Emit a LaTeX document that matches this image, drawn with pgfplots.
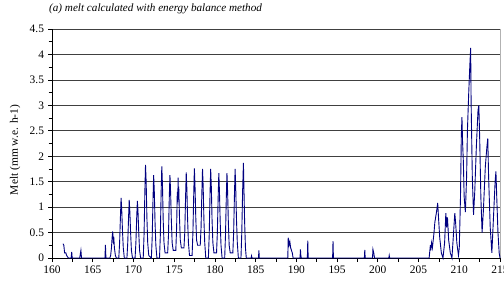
\documentclass[border=0pt]{standalone}
\usepackage{fontspec}
\setmainfont{Liberation Serif}
\usepackage{pgfplots}
\pgfplotsset{compat=1.18}
\definecolor{navyline}{RGB}{0,0,128}
\begin{document}
\begin{tikzpicture}
\path[use as bounding box] (-52bp,-26bp) rectangle (452bp,258bp);
\begin{axis}[
  at={(0,0)}, anchor=south west,
  scale only axis, width=448bp, height=229bp,
  xmin=160, xmax=215, ymin=0, ymax=4.5,
  xtick={160,165,...,215}, ytick={0,0.5,...,4.5},
  minor x tick num=1, minor y tick num=1,
  tick align=outside,
  major tick length=4bp, minor tick length=3.5bp,
  axis x line*=bottom, axis y line*=left,
  axis line style={black, line width=0.7bp, -},
  tick style={black, line width=0.7bp},
  ymajorgrids, major grid style={black!75, line width=0.7bp},
  /pgf/number format/assume math mode=true,
  ticklabel style={font=\fontsize{11.5}{13}\selectfont},
  yticklabel style={xshift=-0.5bp},
  xticklabel style={yshift=0bp},
  title={\fontsize{11.2}{13}\selectfont\itshape (a) melt calculated with energy balance method},
  title style={at={(0,1)}, anchor=base west, xshift=-3bp, yshift=12bp, inner sep=0pt},
  ylabel={Melt (mm w.e. h-1)},
  ylabel style={font=\fontsize{11.5}{13}\selectfont, at={(axis description cs:-0.0826,0.472)}, anchor=center},
  clip=false,
]
\draw[black!30, line width=1bp] (rel axis cs:1,0) -- (rel axis cs:1,1);
\addplot[navyline, line width=0.9bp] coordinates {
(161.35,0.28) (161.45,0.25) (161.55,0.1) (161.7,0.1) (161.8,0.05) (162.0,0)
(162.35,0) (162.42,0.12) (162.48,0) (163.4,0) (163.48,0.08) (163.55,0.15) (163.62,0)
(166.5,0) (166.56,0.26) (166.62,0) (167.1,0)
(167.2,0.05) (167.3,0.2) (167.38,0.4) (167.45,0.52) (167.52,0.35) (167.58,0.42) (167.66,0.2) (167.78,0.05) (167.9,0)
(168.2,0) (168.3,0.3) (168.4,0.8) (168.48,1.18) (168.56,0.95) (168.65,0.55) (168.75,0.2) (168.88,0)
(169.2,0) (169.3,0.3) (169.4,0.8) (169.48,1.14) (169.56,0.9) (169.65,0.5) (169.75,0.15) (169.88,0)
(170.2,0) (170.3,0.3) (170.4,0.8) (170.48,1.12) (170.56,0.9) (170.65,0.5) (170.75,0.15) (170.88,0)
(171.2,0) (171.3,0.45) (171.4,1.3) (171.48,1.83) (171.56,1.5) (171.65,0.8) (171.75,0.3) (171.88,0.05)
(172.2,0) (172.3,0.4) (172.4,1.15) (172.48,1.63) (172.56,1.3) (172.65,0.7) (172.75,0.25) (172.88,0)
(173.2,0) (173.3,0.45) (173.4,1.3) (173.48,1.80) (173.56,1.45) (173.65,0.75) (173.75,0.3) (173.88,0.1)
(174.2,0.1) (174.3,0.45) (174.4,1.2) (174.48,1.63) (174.56,1.3) (174.65,0.75) (174.75,0.3) (174.88,0.15)
(175.2,0.15) (175.3,0.6) (175.38,1.3) (175.44,1.1) (175.48,1.58) (175.52,1.2) (175.56,1.4) (175.65,0.8) (175.75,0.35) (175.88,0.2)
(176.2,0.2) (176.3,0.5) (176.4,1.2) (176.48,1.68) (176.56,1.35) (176.65,0.75) (176.75,0.3) (176.88,0.05)
(177.2,0.05) (177.3,0.5) (177.4,1.25) (177.48,1.76) (177.56,1.4) (177.65,0.8) (177.75,0.35) (177.88,0.25)
(178.2,0.25) (178.3,0.6) (178.4,1.3) (178.48,1.75) (178.56,1.4) (178.65,0.75) (178.75,0.3) (178.88,0)
(179.2,0) (179.3,0.45) (179.4,1.25) (179.48,1.75) (179.56,1.4) (179.65,0.75) (179.75,0.3) (179.88,0.1)
(180.2,0.1) (180.3,0.5) (180.4,1.2) (180.48,1.67) (180.56,1.3) (180.65,0.7) (180.75,0.25) (180.88,0)
(181.2,0) (181.3,0.45) (181.4,1.2) (181.48,1.67) (181.56,1.3) (181.65,0.7) (181.75,0.25) (181.88,0.1)
(182.2,0.1) (182.3,0.5) (182.4,1.25) (182.48,1.75) (182.56,1.35) (182.65,0.75) (182.75,0.3) (182.88,0)
(183.2,0) (183.3,0.5) (183.4,1.3) (183.5,1.87) (183.56,1.4) (183.65,0.7) (183.75,0.2) (183.85,0)
(184.45,0) (184.5,0.04) (184.55,0) (185.35,0) (185.4,0.15) (185.45,0)
(188.95,0) (189.0,0.4) (189.1,0.25) (189.2,0.32) (189.3,0.2) (189.5,0.1) (189.6,0)
(190.45,0) (190.5,0.17) (190.55,0.05) (190.6,0) (191.35,0) (191.4,0.34) (191.45,0)
(194.45,0) (194.5,0.33) (194.55,0) (198.35,0) (198.4,0.16) (198.45,0)
(199.35,0) (199.4,0.17) (199.5,0.1) (199.6,0) (201.35,0) (201.4,0.05) (201.45,0)
(206.3,0) (206.45,0.25) (206.5,0.15) (206.6,0.3) (206.7,0.2) (206.8,0.35) (206.9,0.5) (207.0,0.7) (207.2,0.9) (207.35,1.08) (207.45,0.8) (207.6,0.4) (207.8,0.1) (208.0,0)
(208.2,0.3) (208.35,0.88) (208.45,0.6) (208.55,0.8) (208.7,0.35) (208.9,0.1) (209.1,0)
(209.3,0.5) (209.45,0.88) (209.55,0.7) (209.7,0.3) (209.9,0.05)
(210.0,0.2) (210.15,1.2) (210.25,2.4) (210.33,2.77) (210.4,2.3) (210.5,1.9) (210.6,1.2) (210.75,0.9)
(210.9,1.6) (211.0,2.5) (211.15,3.2) (211.3,3.8) (211.4,4.13) (211.45,3.1) (211.5,2.6) (211.6,1.6) (211.75,0.85)
(211.9,1.3) (212.1,2.2) (212.3,2.9) (212.4,3.0) (212.5,2.4) (212.65,1.2) (212.8,0.5)
(212.95,0.9) (213.2,1.8) (213.4,2.2) (213.5,2.35) (213.6,1.6) (213.8,0.6) (214.0,0.1)
(214.2,0.8) (214.4,1.5) (214.5,1.7) (214.6,1.2) (214.75,0.5) (214.9,0.1) (215,0)
};
\end{axis}
\end{tikzpicture}
\end{document}
